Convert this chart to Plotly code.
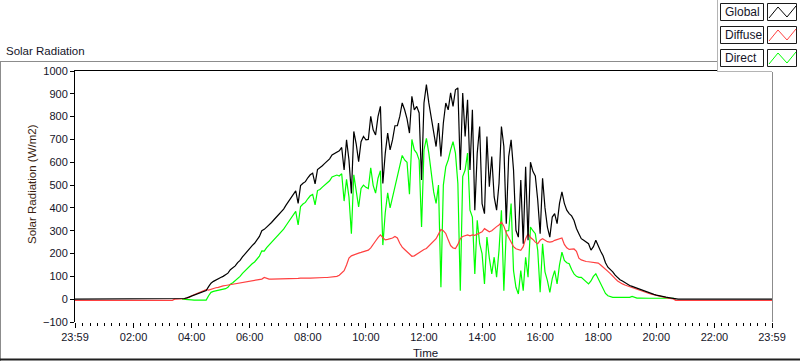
import plotly.graph_objects as go

# ---------------- data (5-minute samples, 03:30 .. 21:00) ----------------
DAY = "2000-01-02"
PREV = "2000-01-01"
T0_MIN = 210      # 03:30
DT_MIN = 5

global_vals = [
    0, 0, 0, 3, 6, 10,
    14, 18, 22, 27, 33, 35, 38, 55, 70, 78, 85, 90,
    95, 100, 106, 114, 129, 136, 146, 160, 170, 185, 198, 212,
    225, 235, 245, 258, 275, 300, 306, 316, 325, 336, 348, 360,
    370, 380, 395, 412, 428, 445, 460, 475, 420, 498, 508, 515,
    532, 545, 552, 505, 568, 575, 585, 595, 605, 615, 632, 638,
    645, 650, 665, 566, 698, 610, 463, 735, 680, 603, 690, 713,
    698, 700, 801, 742, 720, 800, 845, 507, 640, 728, 654, 698,
    760, 760, 801, 860, 830, 790, 728, 889, 830, 845, 816, 522,
    860, 940, 860, 801, 728, 669, 772, 625, 772, 860, 830, 904,
    845, 918, 926, 566, 904, 713, 874, 566, 830, 390, 640, 757,
    419, 375, 713, 493, 625, 448, 390, 507, 757, 669, 331, 625,
    698, 566, 302, 272, 522, 243, 580, 258, 600, 560, 540, 434,
    287, 530, 400, 316, 272, 360, 375, 331, 420, 470, 420, 390,
    375, 365, 345, 310, 287, 265, 258, 250, 243, 215, 230, 258,
    230, 210, 190, 160, 140, 130, 120, 105, 95, 85, 80, 72,
    65, 60, 56, 52, 48, 44, 38, 34, 30, 27, 24, 21,
    18, 15, 13, 11, 9, 7, 5, 2, 0, 0, 0, 0,
    0,
]

diffuse_vals = [
    0, 0, 0, 2, 5, 8,
    15, 20, 24, 29, 35, 38, 42, 40, 44, 47, 50, 52,
    56, 58, 60, 62, 63, 64, 66, 68, 70, 72, 74, 76,
    78, 80, 82, 84, 86, 88, 95, 90, 88, 88, 88, 88,
    88, 88, 88, 89, 89, 90, 90, 90, 91, 92, 91, 91,
    92, 92, 93, 92, 92, 94, 94, 95, 95, 96, 96, 97,
    100, 105, 115, 125, 150, 180, 190, 195, 200, 202, 205, 208,
    212, 215, 225, 243, 255, 270, 282, 270, 260, 262, 265, 268,
    275, 268, 245, 228, 218, 208, 198, 188, 190, 198, 206, 212,
    218, 222, 232, 243, 252, 265, 285, 305, 300, 288, 260, 235,
    225, 222, 240, 265, 275, 280, 282, 278, 282, 280, 285, 290,
    295, 309, 300, 295, 300, 310, 318, 325, 338, 320, 290, 270,
    250, 230, 221, 218, 214, 230, 265, 287, 270, 262, 250, 243,
    258, 265, 258, 252, 250, 252, 258, 262, 265, 268, 240, 225,
    218, 218, 220, 210, 180, 172, 168, 165, 164, 162, 162, 160,
    158, 150, 142, 132, 122, 112, 103, 90, 80, 72, 67, 62,
    58, 55, 52, 48, 45, 41, 36, 32, 28, 25, 22, 19,
    16, 13, 11, 9, 7, 5, 3, 1, -5, -5, -5, -5,
    -5,
]

direct_vals = [
    None, None, 0, 0, 0, -2,
    -3, -4, -4, -3, -4, -4, -4, 15, 30, 34, 36, 38,
    39, 42, 46, 52, 66, 72, 80, 92, 100, 113, 124, 136,
    147, 155, 163, 174, 189, 212, 211, 226, 237, 248, 260, 272,
    282, 292, 307, 323, 339, 355, 370, 385, 325, 406, 417, 424,
    440, 453, 459, 413, 476, 481, 491, 500, 510, 519, 536, 541,
    544, 540, 550, 430, 525, 448, 287, 545, 480, 404, 485, 500,
    490, 485, 576, 499, 465, 530, 563, 237, 380, 466, 400, 445,
    490, 530, 580, 630, 610, 600, 460, 700, 654, 640, 610, 316,
    654, 705, 640, 560, 470, 420, 500, 52, 500, 580, 610, 654,
    690, 640, 507, 37, 537, 566, 640, 390, 360, 110, 346, 243,
    200, 67, 272, 180, 111, 184, 96, 214, 390, 37, 300, 300,
    419, 125, 52, 23, 125, 37, 184, 96, 316, 300, 287, 214,
    30, 243, 120, 81, 30, 90, 125, 67, 150, 206, 170, 160,
    155, 130, 111, 100, 96, 96, 85, 75, 67, 80, 100, 111,
    90, 67, 45, 25, 15, 10, 8, 8, 8, 8, 8, 8,
    9, 8, 12, 7, 5, 5, 4, 4, 4, 4, 4, 4,
    4, 4, 4, 4, 4, 4, 4, 4, 0, None, None, None,
    None,
]

GLOBAL_NIGHT = 0
DIFFUSE_NIGHT = -5

series_names = ["Global", "Diffuse", "Direct"]
series_colors = ["#000000", "#ff4040", "#00ff00"]

tick_text = ["23:59", "02:00", "04:00", "06:00", "08:00", "10:00", "12:00",
             "14:00", "16:00", "18:00", "20:00", "22:00", "23:59"]


def stamp(m):
    return f"{DAY} {m // 60:02d}:{m % 60:02d}"


start = f"{PREV} 23:59"
end = f"{DAY} 23:59"
times = [stamp(T0_MIN + i * DT_MIN) for i in range(len(global_vals))]

global_x = [start] + times + [end]
global_y = [GLOBAL_NIGHT] + global_vals + [GLOBAL_NIGHT]
diffuse_x = [start, stamp(200), stamp(205)] + times + [end]
diffuse_y = [DIFFUSE_NIGHT, DIFFUSE_NIGHT, 0] + diffuse_vals + [DIFFUSE_NIGHT]
direct_x = times
direct_y = direct_vals

tick_vals = [start] + [stamp(h * 60) for h in range(2, 23, 2)] + [end]

# ---------------- figure ----------------
W, H = 800, 361
L, R, T, B = 75, 28, 71, 39
PW, PH = W - L - R, H - T - B


def X(px):
    return (px - L) / PW


def Y(py):
    return (T + PH - py) / PH


fig = go.Figure()
fig.add_trace(go.Scatter(x=direct_x, y=direct_y, mode="lines", name=series_names[2],
                         line=dict(color=series_colors[2], width=1.2), connectgaps=False))
fig.add_trace(go.Scatter(x=diffuse_x, y=diffuse_y, mode="lines", name=series_names[1],
                         line=dict(color=series_colors[1], width=1.2)))
fig.add_trace(go.Scatter(x=global_x, y=global_y, mode="lines", name=series_names[0],
                         line=dict(color=series_colors[0], width=1.2)))

FONT = "Liberation Sans, Arial, sans-serif"
TXT = "#141428"

shapes = []


def hline(py, x0, x1, color, w=1):
    shapes.append(dict(type="line", xref="paper", yref="paper", x0=X(x0), x1=X(x1),
                       y0=Y(py), y1=Y(py), line=dict(color=color, width=w)))


def vline(px, y0, y1, color, w=1):
    shapes.append(dict(type="line", xref="paper", yref="paper", x0=X(px), x1=X(px),
                       y0=Y(y0), y1=Y(y1), line=dict(color=color, width=w)))


def rect(x0, y0, x1, y1, fill, line_color=None):
    shapes.append(dict(type="rect", xref="paper", yref="paper", x0=X(x0), x1=X(x1),
                       y0=Y(y1), y1=Y(y0), fillcolor=fill,
                       line=dict(color=line_color or "rgba(0,0,0,0)", width=1 if line_color else 0)))


# outer frame
hline(61.5, 0, 800, "#8c8c8c")
vline(0.5, 61, 361, "#8c8c8c")
hline(359.5, 0, 800, "#202020", 2)
# plot area border (top black, right gray)
hline(70.5, 74, 772, "#000000")
vline(772.5, 70, 322, "#8c8c8c")

# legend panel
rect(717, -2, 802, 72, "white")
vline(717.5, -2, 72, "#b4b4b4")
hline(71.5, 717, 772, "#b4b4b4")
annotations = []
for i, (name, col) in enumerate(zip(series_names, series_colors)):
    oy = 23 * i
    rect(720.5, 3.5 + oy, 763.5, 20.5 + oy, "white", "#1a1a1a")
    rect(767.5, 3.5 + oy, 796.5, 20.5 + oy, "white", "#1a1a1a")
    pts = [(769, 18 + oy), (778, 7 + oy), (787, 17 + oy), (796, 6 + oy)]
    path = "M " + " L ".join(f"{X(px):.5f},{Y(py):.5f}" for px, py in pts)
    shapes.append(dict(type="path", xref="paper", yref="paper", path=path,
                       line=dict(color=col, width=1)))
    annotations.append(dict(text=name, xref="paper", yref="paper", x=X(723), y=Y(12 + oy),
                            xanchor="left", yanchor="middle", showarrow=False,
                            font=dict(family=FONT, size=12, color=TXT)))

annotations += [
    dict(text="Solar Radiation", xref="paper", yref="paper", x=X(4), y=Y(51),
         xanchor="left", yanchor="middle", showarrow=False,
         font=dict(family=FONT, size=11.5, color=TXT)),
    dict(text="Solar Radiation (W/m2)", xref="paper", yref="paper", x=X(32), y=Y(184),
         xanchor="center", yanchor="middle", textangle=-90, showarrow=False,
         font=dict(family=FONT, size=11.5, color="#3a1e10")),
    dict(text="Time", xref="paper", yref="paper", x=X(425), y=Y(353),
         xanchor="center", yanchor="middle", showarrow=False,
         font=dict(family=FONT, size=11.5, color=TXT)),
]

fig.update_layout(
    width=W, height=H,
    margin=dict(l=L, r=R, t=T, b=B, pad=0),
    paper_bgcolor="white", plot_bgcolor="white",
    showlegend=False,
    font=dict(family=FONT, size=11, color=TXT),
    shapes=shapes,
    annotations=annotations,
    xaxis=dict(type="date", range=[start, end], tickmode="array",
               tickvals=tick_vals, ticktext=tick_text,
               ticks="outside", ticklen=5, tickwidth=1, tickcolor="#000000",
               showline=False, showgrid=False, zeroline=False,
               tickfont=dict(family=FONT, size=11, color=TXT),
               minor=dict(ticks="outside", ticklen=3, tickwidth=1, tickcolor="#000000",
                          dtick=15 * 60 * 1000, tick0=f"{DAY} 00:00", showgrid=False)),
    yaxis=dict(range=[-100, 1000], tickmode="linear", tick0=0, dtick=100,
               ticks="outside", ticklen=4, tickwidth=1, tickcolor="#000000",
               showline=True, linecolor="#000000", linewidth=1,
               showgrid=False, zeroline=False,
               tickfont=dict(family=FONT, size=11, color=TXT)),
)

fig.write_html("out.html",
               config={"displayModeBar": False},
               post_script="document.body.style.margin='0';document.body.style.padding='0';"
                           "document.body.style.overflow='hidden';")
